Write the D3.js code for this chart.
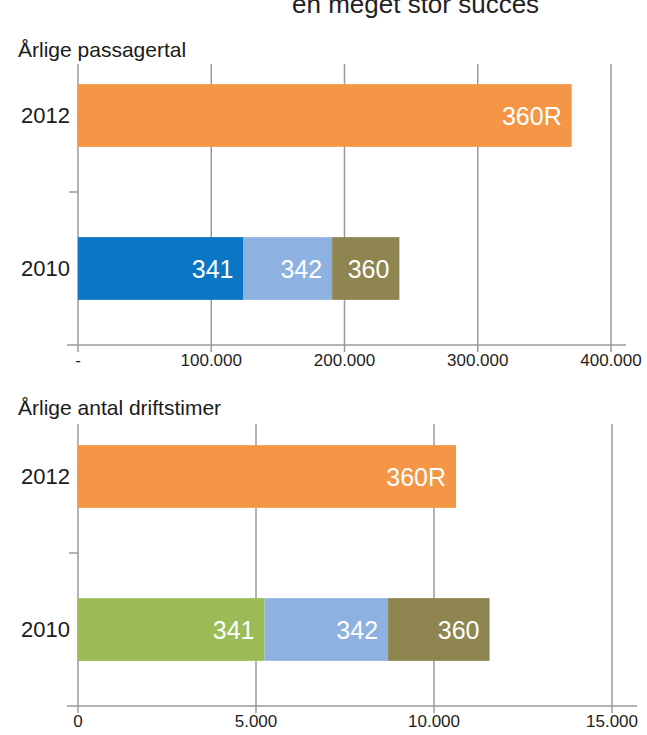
<!DOCTYPE html>
<html>
<head>
<meta charset="utf-8">
<script src="https://cdn.jsdelivr.net/npm/d3@7"></script>
<style>
  body { margin: 0; background: #fff; }
  svg { display: block; }
  .title { font-family: "Liberation Sans", Arial, sans-serif; font-size: 21px; fill: #1a1a1a; }
  .year { font-family: "Liberation Sans", Arial, sans-serif; font-size: 22px; fill: #1a1a1a; }
  .tick-label { font-family: "Liberation Sans", Arial, sans-serif; font-size: 17px; fill: #1e1e1e; }
  .bar-label { font-family: "Liberation Sans", Arial, sans-serif; font-size: 25px; fill: #fff; }
  .grid, .axis-line { stroke: #9a9a9a; stroke-width: 1.5; }
</style>
</head>
<body>
<div id="chart"></div>
<script>
// Data
const categories = ['2012', '2010'];
const seriesNames2010 = ['341', '342', '360'];
const seriesNames2012 = ['360R'];

const passengers2010 = [124200, 66500, 50500];
const passengers2012 = [370500];
const hours2010 = [5240, 3470, 2850];
const hours2012 = [10620];

const passengerTicks = [0, 100000, 200000, 300000, 400000];
const passengerTickLabels = ['-', '100.000', '200.000', '300.000', '400.000'];
const hourTicks = [0, 5000, 10000, 15000];
const hourTickLabels = ['0', '5.000', '10.000', '15.000'];

const W = 647, H = 735;

const svg = d3.select('#chart')
    .append('svg')
    .attr('width', W)
    .attr('height', H);

// Heading text that the crop cuts at the top edge
svg.append('text')
    .attr('x', 292)
    .attr('y', 13)
    .style('font-family', '"Liberation Sans", Arial, sans-serif')
    .style('font-size', '26px')
    .style('fill', '#222')
    .text('en meget stor succes');

function drawPanel(cfg) {
    const x = d3.scaleLinear()
        .domain([0, cfg.ticks[cfg.ticks.length - 1]])
        .range([78, cfg.xEnd]);

    const y = d3.scaleBand()
        .domain(categories)
        .range([cfg.bandTop, cfg.axisY])
        .padding(0);

    const barH = y.bandwidth() * 0.41;
    const barY = d => y(d) + (y.bandwidth() - barH) / 2;

    const g = svg.append('g');

    // Title
    g.append('text')
        .attr('class', 'title')
        .attr('x', 18)
        .attr('y', cfg.titleY)
        .text(cfg.title);

    // Vertical gridlines (incl. y axis at 0)
    g.selectAll('.grid')
        .data(cfg.ticks)
        .enter()
        .append('line')
        .attr('class', 'grid')
        .attr('x1', d => x(d))
        .attr('x2', d => x(d))
        .attr('y1', cfg.gridTop)
        .attr('y2', cfg.axisY + 7);

    // Horizontal axis line
    g.append('line')
        .attr('class', 'axis-line')
        .attr('x1', 67)
        .attr('x2', cfg.axisEnd)
        .attr('y1', cfg.axisY)
        .attr('y2', cfg.axisY);

    // Category separator tick
    g.append('line')
        .attr('class', 'axis-line')
        .attr('x1', 69)
        .attr('x2', 78)
        .attr('y1', y(categories[1]))
        .attr('y2', y(categories[1]));

    // Tick labels
    g.selectAll('.tick-label')
        .data(cfg.ticks)
        .enter()
        .append('text')
        .attr('class', 'tick-label')
        .attr('x', d => x(d))
        .attr('y', cfg.axisY + 21)
        .attr('text-anchor', 'middle')
        .text((d, i) => cfg.tickLabels[i]);

    // Year labels
    g.selectAll('.year')
        .data(categories)
        .enter()
        .append('text')
        .attr('class', 'year')
        .attr('x', 70)
        .attr('y', d => y(d) + y.bandwidth() / 2)
        .attr('dy', '0.36em')
        .attr('text-anchor', 'end')
        .text(d => d);

    // Stacked segments
    cfg.rows.forEach(row => {
        let acc = 0;
        const segs = row.values.map((v, i) => {
            const s = { x0: acc, x1: acc + v, name: row.names[i], color: row.colors[i] };
            acc += v;
            return s;
        });

        g.selectAll(null)
            .data(segs)
            .enter()
            .append('rect')
            .attr('x', d => x(d.x0))
            .attr('y', barY(row.cat))
            .attr('width', d => x(d.x1) - x(d.x0))
            .attr('height', barH)
            .attr('fill', d => d.color);

        g.selectAll(null)
            .data(segs)
            .enter()
            .append('text')
            .attr('class', 'bar-label')
            .attr('x', d => x(d.x1) - 10)
            .attr('y', y(row.cat) + y.bandwidth() / 2)
            .attr('dy', '0.36em')
            .attr('text-anchor', 'end')
            .text(d => d.name);
    });
}

drawPanel({
    title: 'Årlige passagertal',
    titleY: 57,
    gridTop: 64,
    bandTop: 39,
    axisY: 345,
    xEnd: 611,
    axisEnd: 626,
    ticks: passengerTicks,
    tickLabels: passengerTickLabels,
    rows: [
        { cat: '2012', values: passengers2012, names: seriesNames2012, colors: ['#F59647'] },
        { cat: '2010', values: passengers2010, names: seriesNames2010, colors: ['#0A77C6', '#8DB1E1', '#8E8550'] }
    ]
});

drawPanel({
    title: 'Årlige antal driftstimer',
    titleY: 415,
    gridTop: 424,
    bandTop: 400,
    axisY: 706,
    xEnd: 612,
    axisEnd: 637,
    ticks: hourTicks,
    tickLabels: hourTickLabels,
    rows: [
        { cat: '2012', values: hours2012, names: seriesNames2012, colors: ['#F59647'] },
        { cat: '2010', values: hours2010, names: seriesNames2010, colors: ['#9BBB55', '#8DB1E1', '#8E8550'] }
    ]
});
</script>
</body>
</html>
